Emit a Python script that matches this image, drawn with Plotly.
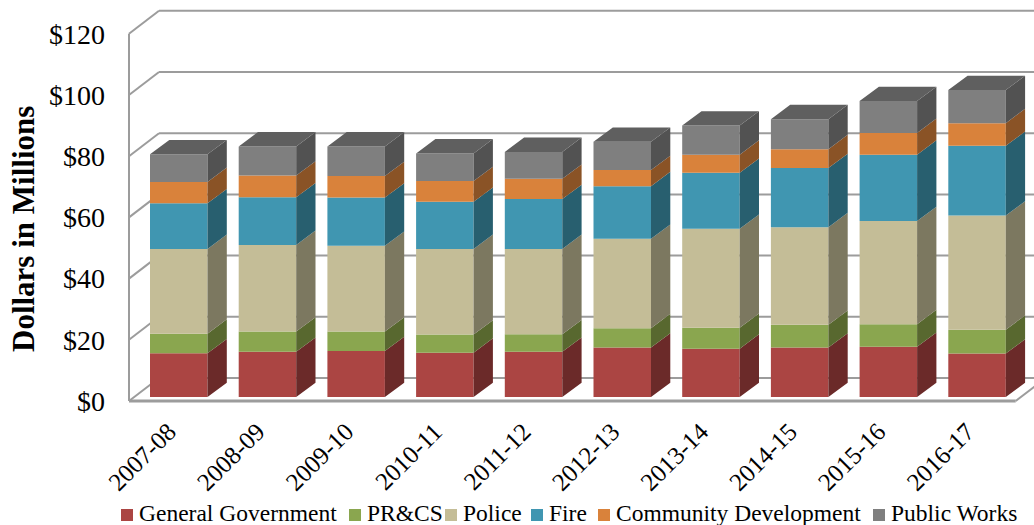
import plotly.graph_objects as go

PAGE_W, PAGE_H = 1034, 525

years = ["2007-08", "2008-09", "2009-10", "2010-11", "2011-12",
         "2012-13", "2013-14", "2014-15", "2015-16", "2016-17"]
general_government = [14.3, 14.8, 15.0, 14.5, 14.8, 16.2, 15.8, 16.2, 16.4, 14.2]
prcs = [6.4, 6.6, 6.4, 5.9, 5.7, 6.3, 6.8, 7.4, 7.4, 7.8]
police = [27.7, 28.3, 28.0, 28.0, 27.9, 29.2, 32.4, 31.9, 33.7, 37.3]
fire = [14.9, 15.6, 15.8, 15.4, 16.3, 17.2, 18.3, 19.3, 21.7, 22.8]
community_development = [7.0, 7.1, 7.0, 6.8, 6.6, 5.3, 5.9, 6.2, 7.1, 7.4]
public_works = [9.05, 9.5, 9.7, 9.0, 8.8, 9.2, 9.5, 9.8, 10.4, 10.8]
y_ticks = [0, 20, 40, 60, 80, 100, 120]

series = [
    ("General Government", general_government, "#AB4543", "#6B2A29"),
    ("PR&CS", prcs, "#8AA64F", "#58682F"),
    ("Police", police, "#C4BD97", "#7C7860"),
    ("Fire", fire, "#4096B1", "#285F6F"),
    ("Community Development", community_development, "#D9823B", "#8A5326"),
    ("Public Works", public_works, "#7F7F7F", "#525252"),
]
legend_left = [121, 349, 445, 531, 598, 873]

FONT = "Liberation Serif"
TOP_COLOR = "#5F5F5F"
GRID = "#9C9C9C"

# pixel scales
PITCH = 88.7
X0_PX = 178.75
ZERO_PX = 401
PX_PER_UNIT = 3.06
PLOT_L, PLOT_B = 125, 410

BAR_W = 57.5 / PITCH
LIFT = 4 / PX_PER_UNIT  # bars stand a little behind the front edge of the floor
BAR_DX, BAR_DY = 19.3 / PITCH, 14.3 / PX_PER_UNIT
WALL_DX, WALL_DY = 30 / PITCH, 23 / PX_PER_UNIT
WALL_X = (129 - X0_PX) / PITCH
FLOOR_END = (1015.7 - X0_PX) / PITCH
TICK_SHIFT = 10 / PITCH


def paper_x(px):
    return (px - PLOT_L) / (PAGE_W - PLOT_L)


def paper_y(px):
    return (PLOT_B - px) / PLOT_B


fig = go.Figure()

xs = list(range(len(years)))
base = [LIFT] * len(years)
top_x, top_y = [], []
for name, values, front, side in series:
    fig.add_trace(go.Bar(x=xs, y=values, base=base, width=BAR_W, name=name,
                         marker=dict(color=front, line=dict(width=0)),
                         showlegend=False))
    side_x, side_y = [], []
    for i, v in enumerate(values):
        right = i + BAR_W / 2
        lo, hi = base[i], base[i] + v
        side_x += [right, right + BAR_DX, right + BAR_DX, right, right, None]
        side_y += [lo, lo + BAR_DY, hi + BAR_DY, hi, lo, None]
    fig.add_trace(go.Scatter(x=side_x, y=side_y, mode="lines", fill="toself",
                             fillcolor=side, line=dict(width=0), hoverinfo="skip",
                             showlegend=False))
    base = [b + v for b, v in zip(base, values)]

for i, b in enumerate(base):
    left, right = i - BAR_W / 2, i + BAR_W / 2
    top_x += [left, right, right + BAR_DX, left + BAR_DX, left, None]
    top_y += [b, b, b + BAR_DY, b + BAR_DY, b, None]
fig.add_trace(go.Scatter(x=top_x, y=top_y, mode="lines", fill="toself",
                         fillcolor=TOP_COLOR, line=dict(width=0), hoverinfo="skip",
                         showlegend=False))

# the walls have to sit behind the bars, so they go in as shapes
shapes = []
line = dict(color=GRID, width=2)
for t in y_ticks:
    shapes.append(dict(type="line", xref="x", yref="y", layer="below", line=line,
                       x0=WALL_X, y0=t, x1=WALL_X + WALL_DX, y1=t + WALL_DY))
    shapes.append(dict(type="line", xref="x", yref="y", layer="below", line=line,
                       x0=WALL_X + WALL_DX, y0=t + WALL_DY,
                       x1=FLOOR_END + WALL_DX, y1=t + WALL_DY))
shapes.append(dict(type="line", xref="x", yref="y", layer="below", line=line,
                   x0=WALL_X, y0=0, x1=WALL_X, y1=y_ticks[-1]))
shapes.append(dict(type="line", xref="x", yref="y", layer="below",
                   line=dict(color=GRID, width=3),
                   x0=WALL_X, y0=0, x1=FLOOR_END, y1=0))
shapes.append(dict(type="line", xref="x", yref="y", layer="below", line=line,
                   x0=FLOOR_END, y0=0, x1=FLOOR_END + WALL_DX, y1=WALL_DY))

annotations = [dict(text="<b>Dollars in Millions</b>", textangle=-90, showarrow=False,
                    xref="paper", yref="paper", x=paper_x(23), y=paper_y(229),
                    xanchor="center", yanchor="middle",
                    font=dict(family=FONT, size=31, color="black"))]

# legend drawn by hand: the built-in one leaves too wide a gap after each swatch
for left, (name, _, front, _) in zip(legend_left, series):
    shapes.append(dict(type="rect", xref="paper", yref="paper", line=dict(width=0),
                       fillcolor=front, x0=paper_x(left), x1=paper_x(left + 12),
                       y0=paper_y(521), y1=paper_y(509)))
    annotations.append(dict(text=name, showarrow=False, xref="paper", yref="paper",
                            x=paper_x(left + 17), y=paper_y(513), xanchor="left",
                            yanchor="middle", borderpad=0,
                            font=dict(family=FONT, size=23.5, color="black")))

fig.update_layout(
    width=PAGE_W, height=PAGE_H,
    margin=dict(l=PLOT_L, r=0, t=0, b=PAGE_H - PLOT_B, pad=0),
    plot_bgcolor="white", paper_bgcolor="white",
    barmode="overlay", showlegend=False,
    shapes=shapes, annotations=annotations,
    font=dict(family=FONT, color="black"),
)
fig.update_xaxes(range=[(PLOT_L - X0_PX) / PITCH, (PAGE_W - X0_PX) / PITCH],
                 tickmode="array", tickvals=[x - TICK_SHIFT for x in xs], ticktext=years,
                 tickangle=-45, tickfont=dict(family=FONT, size=25), showgrid=False,
                 zeroline=False, showline=False, ticks="", ticklabelstandoff=1)
fig.update_yaxes(range=[(ZERO_PX - PLOT_B) / PX_PER_UNIT, ZERO_PX / PX_PER_UNIT],
                 tickmode="array", tickvals=y_ticks, ticktext=[f"${t}" for t in y_ticks],
                 tickfont=dict(family=FONT, size=28), showgrid=False, zeroline=False,
                 showline=False, ticks="", ticklabelstandoff=19)

# the browser's default body margin would push the figure off the window
fig.write_html("out.html", config=dict(displayModeBar=False),
               post_script="document.body.style.margin = '0';")
